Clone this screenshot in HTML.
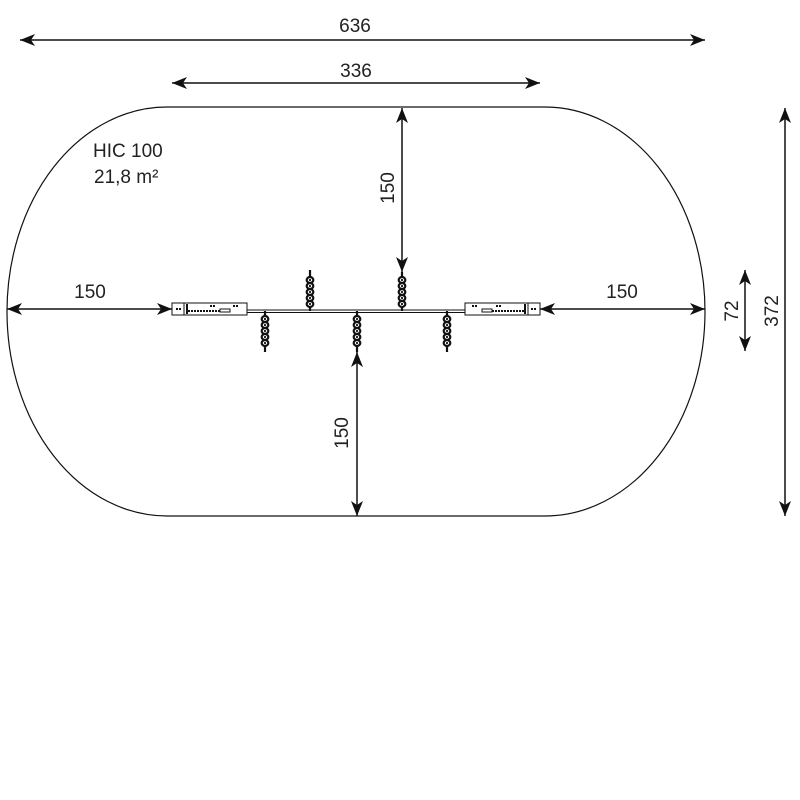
<!DOCTYPE html>
<html><head><style>body{margin:0;background:#fff}svg{display:block}text{font-family:"Liberation Sans",sans-serif;font-size:19px;fill:#222}</style></head><body>
<svg width="800" height="800" viewBox="0 0 800 800">
<defs>
<marker id="a" markerWidth="16" markerHeight="12" refX="15" refY="6" orient="auto-start-reverse" markerUnits="userSpaceOnUse"><path d="M0,0 L15,6 L0,12 L4,6 Z" fill="#111"/></marker>
<g id="ch"><ellipse cx="0" cy="0" rx="3.3" ry="3" fill="#fff" stroke="#111" stroke-width="2.2"/><circle cx="0" cy="0" r="1.1" fill="#111"/></g>
</defs>
<path d="M167,107 L545,107 A160,204.5 0 0 1 545,516 L167,516 A160,204.5 0 0 1 167,107 Z" fill="none" stroke="#111" stroke-width="1.2"/>
<g stroke="#111" stroke-width="1.5" fill="none">
<line x1="20" y1="40" x2="705" y2="40" marker-start="url(#a)" marker-end="url(#a)"/>
<line x1="172" y1="83" x2="540" y2="83" marker-start="url(#a)" marker-end="url(#a)"/>
<line x1="402" y1="108" x2="402" y2="272" marker-start="url(#a)" marker-end="url(#a)"/>
<line x1="7" y1="309" x2="172" y2="309" marker-start="url(#a)" marker-end="url(#a)"/>
<line x1="540" y1="309" x2="705" y2="309" marker-start="url(#a)" marker-end="url(#a)"/>
<line x1="357" y1="352" x2="357" y2="516" marker-start="url(#a)" marker-end="url(#a)"/>
<line x1="745" y1="270" x2="745" y2="351" marker-start="url(#a)" marker-end="url(#a)"/>
<line x1="785" y1="108" x2="785" y2="516" marker-start="url(#a)" marker-end="url(#a)"/>
</g>
<text x="355" y="32" text-anchor="middle">636</text>
<text x="356" y="77" text-anchor="middle">336</text>
<text x="90" y="298" text-anchor="middle">150</text>
<text x="622" y="298" text-anchor="middle">150</text>
<text x="93" y="157">HIC 100</text>
<text x="94" y="183">21,8 m²</text>
<text transform="translate(394,188) rotate(-90)" text-anchor="middle">150</text>
<text transform="translate(348,433) rotate(-90)" text-anchor="middle">150</text>
<text transform="translate(738,311) rotate(-90)" text-anchor="middle">72</text>
<text transform="translate(778,311) rotate(-90)" text-anchor="middle">372</text>
<g stroke="#111" fill="#fff" stroke-width="1">
<line x1="247" y1="310" x2="465" y2="310"/><line x1="247" y1="312.5" x2="465" y2="312.5"/>
<rect x="172" y="303" width="75" height="12"/><rect x="172" y="303" width="12" height="12"/>
<rect x="465" y="303" width="75" height="12"/><rect x="528" y="303" width="12" height="12"/>
<line x1="188" y1="311" x2="220" y2="311" stroke-width="2" stroke-dasharray="2,1"/>
<rect x="220" y="309" width="10" height="3"/>
<line x1="492" y1="311" x2="524" y2="311" stroke-width="2" stroke-dasharray="2,1"/>
<rect x="482" y="309" width="10" height="3"/>
<line x1="187" y1="304" x2="187" y2="314" stroke-width="2"/>
<line x1="525" y1="304" x2="525" y2="314" stroke-width="2"/>
</g>
<g fill="#111">
<rect x="176" y="308" width="2" height="2"/><rect x="179" y="308" width="2" height="2"/>
<rect x="531" y="308" width="2" height="2"/><rect x="534" y="308" width="2" height="2"/>
<rect x="210" y="305" width="2" height="2"/><rect x="213" y="305" width="2" height="2"/><rect x="233" y="305" width="2" height="2"/><rect x="236" y="305" width="2" height="2"/>
<rect x="472" y="305" width="2" height="2"/><rect x="475" y="305" width="2" height="2"/><rect x="496" y="305" width="2" height="2"/><rect x="499" y="305" width="2" height="2"/>
</g>
<g stroke="#111" stroke-width="2.2">
<line x1="265" y1="311" x2="265" y2="352"/><line x1="357" y1="311" x2="357" y2="352"/><line x1="447" y1="311" x2="447" y2="352"/>
<line x1="310" y1="270" x2="310" y2="311"/><line x1="402" y1="272" x2="402" y2="311"/>
</g>
<g>
<g transform="translate(265,319)"><use href="#ch"/><use href="#ch" y="6"/><use href="#ch" y="12"/><use href="#ch" y="18"/><use href="#ch" y="24"/></g>
<g transform="translate(357,319)"><use href="#ch"/><use href="#ch" y="6"/><use href="#ch" y="12"/><use href="#ch" y="18"/><use href="#ch" y="24"/></g>
<g transform="translate(447,319)"><use href="#ch"/><use href="#ch" y="6"/><use href="#ch" y="12"/><use href="#ch" y="18"/><use href="#ch" y="24"/></g>
<g transform="translate(310,280)"><use href="#ch"/><use href="#ch" y="6"/><use href="#ch" y="12"/><use href="#ch" y="18"/><use href="#ch" y="24"/></g>
<g transform="translate(402,280)"><use href="#ch"/><use href="#ch" y="6"/><use href="#ch" y="12"/><use href="#ch" y="18"/><use href="#ch" y="24"/></g>
</g>
</svg>
</body></html>
